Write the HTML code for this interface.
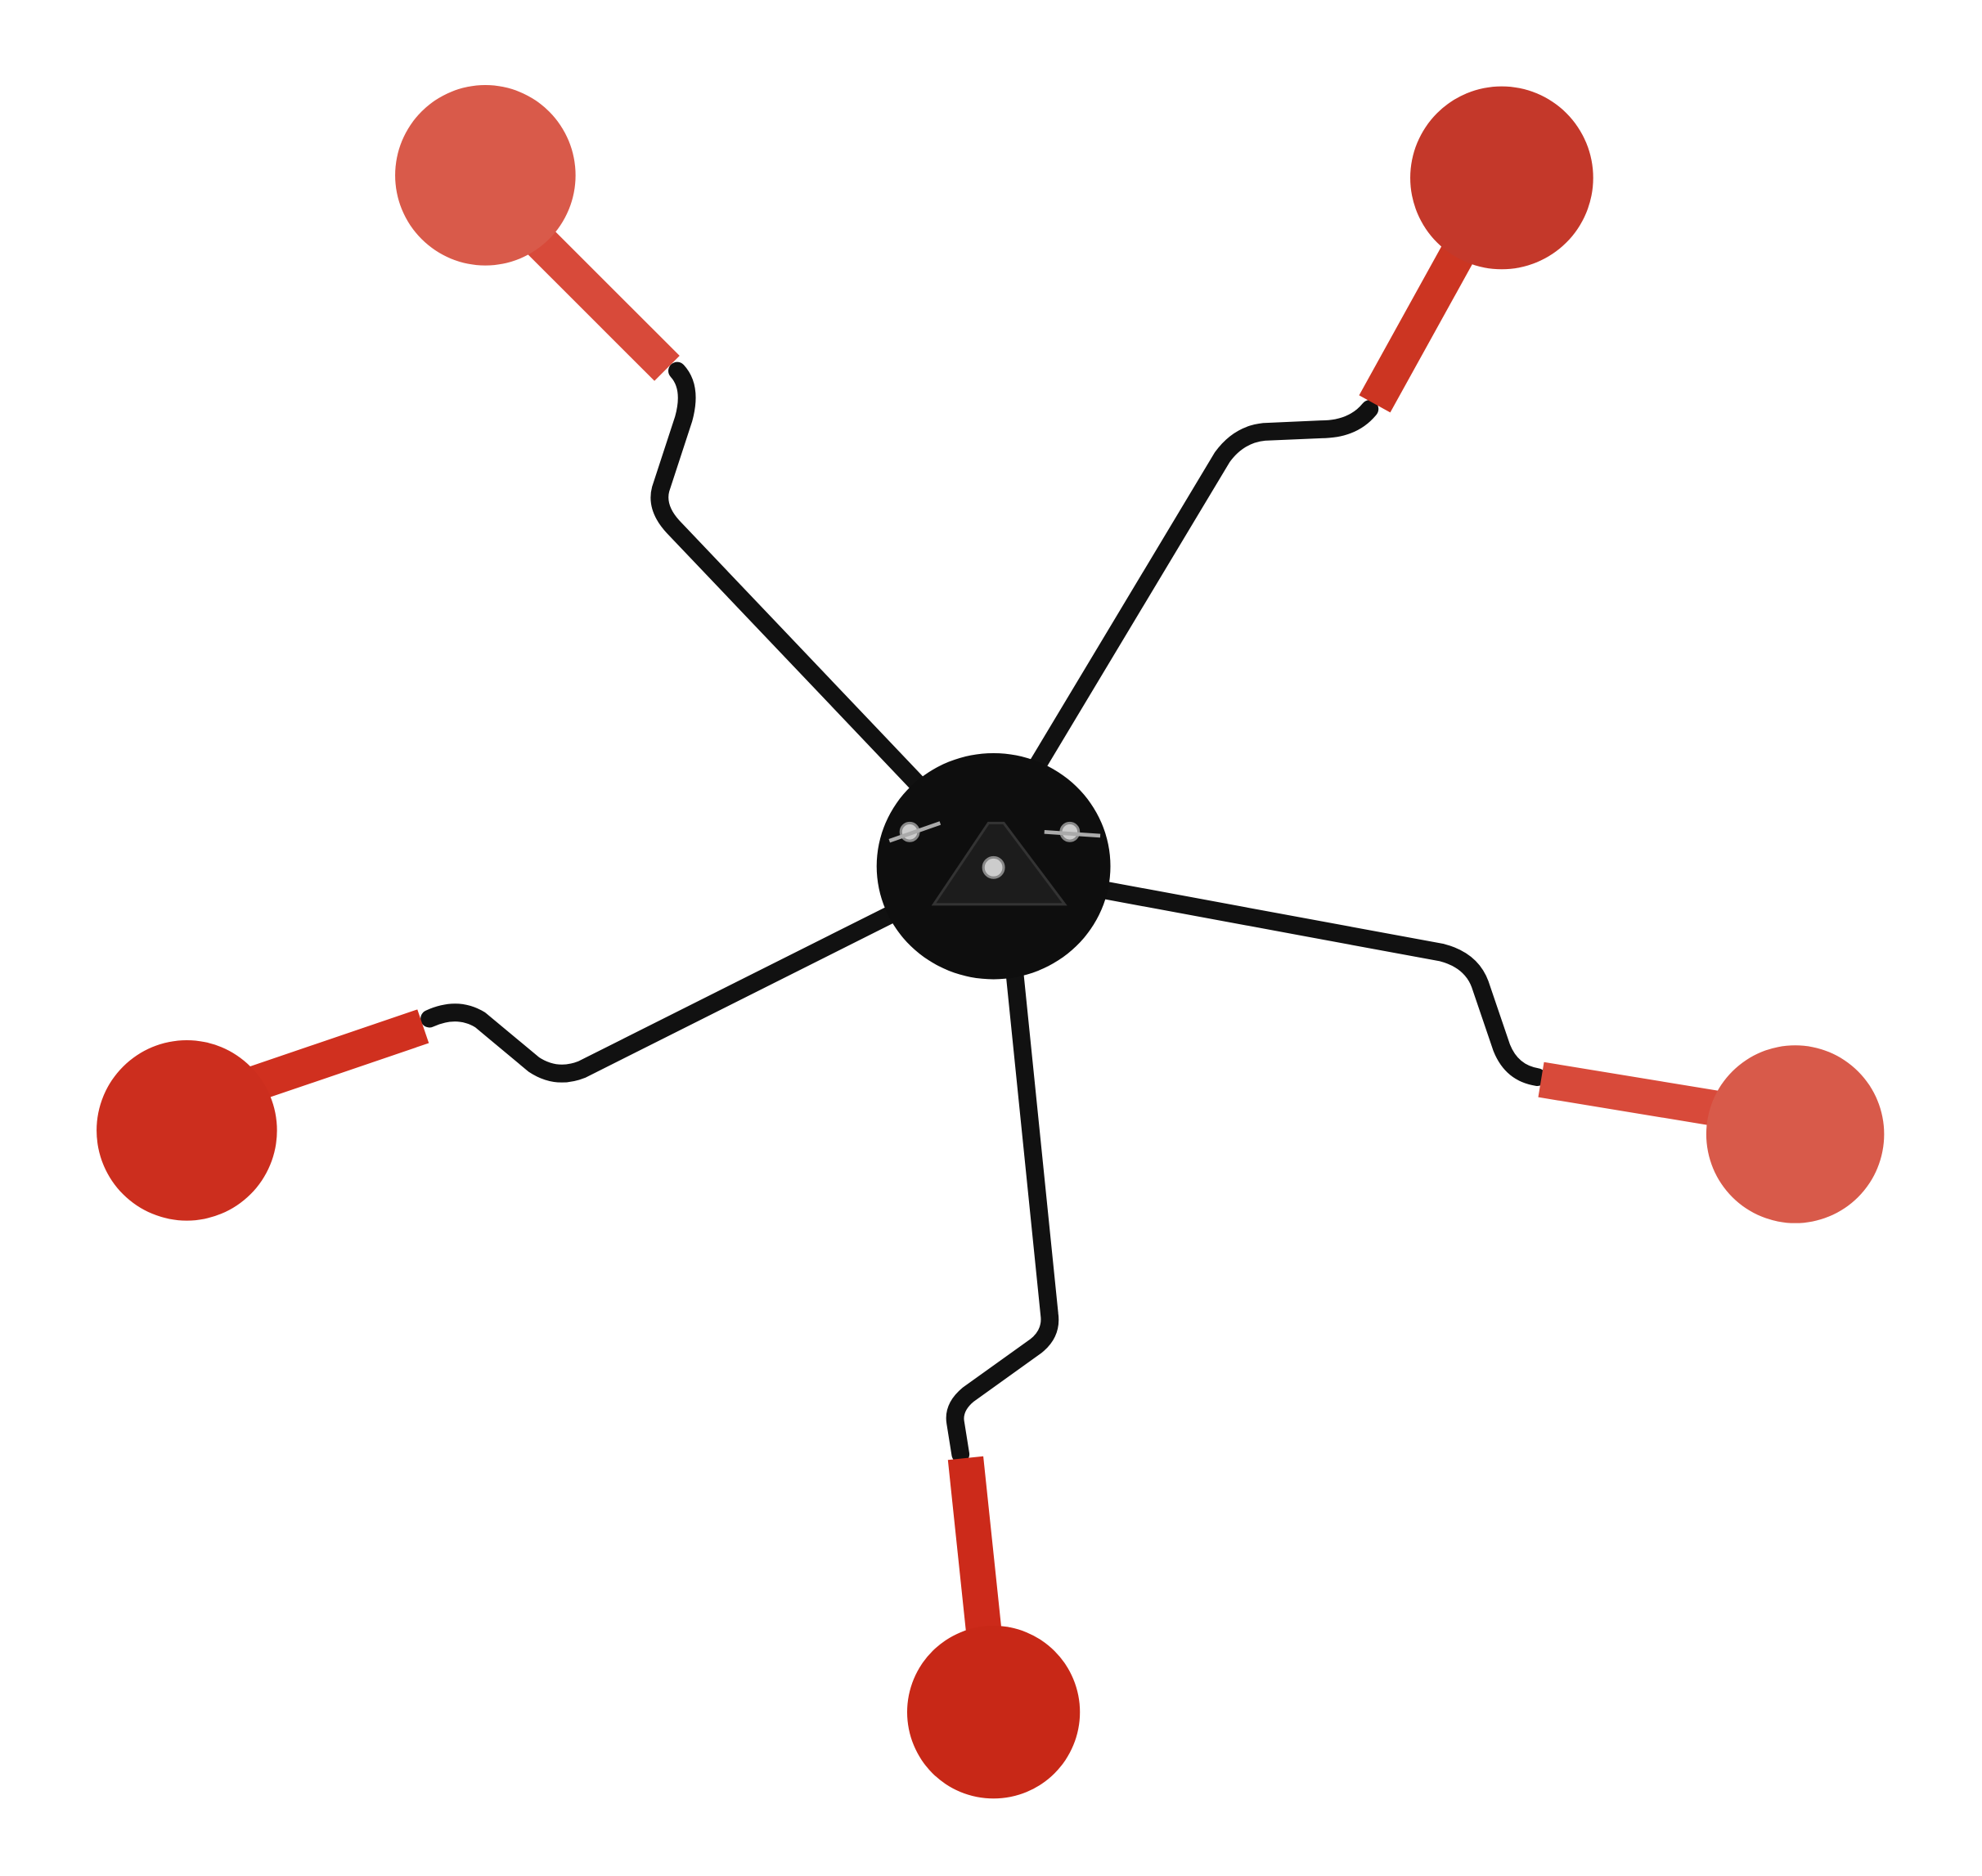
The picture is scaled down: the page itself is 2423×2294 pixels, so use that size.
<!DOCTYPE html>
<html><head><meta charset="utf-8"><style>
html,body{margin:0;padding:0;background:#fff;}
svg{display:block;}
</style></head><body>
<svg width="2423" height="2294" viewBox="0 0 1560 1477" xmlns="http://www.w3.org/2000/svg">
<rect width="1560" height="1477" fill="#fff"/>
<g fill="none" stroke="#111" stroke-width="14" stroke-linecap="round" stroke-linejoin="round">
<path d="M533 292 Q545 305 538 330 L520 385 Q516 400 530 415 L725 620"/>
<path d="M1078 322 Q1065 338 1040 338 L995 340 Q975 342 962 360 L815 605"/>
<path d="M338 802 Q360 792 378 803 L420 838 Q438 850 458 842 L705 718"/>
<path d="M1210 848 Q1190 845 1182 825 L1165 775 Q1158 756 1135 750 L865 700"/>
<path d="M756 1145 L752 1120 Q750 1108 762 1098 L815 1060 Q828 1050 826 1035 L798 760"/>
</g>
<g>
<ellipse cx="782" cy="682" rx="92" ry="89" fill="#0e0e0e"/>
<path d="M735 712 L778 648 L790 648 L838 712 Z" fill="#1c1c1c" stroke="#333" stroke-width="2"/>
<circle cx="782" cy="683" r="8" fill="#ccc" stroke="#888" stroke-width="2"/>
<circle cx="716" cy="655" r="7" fill="#ccc" stroke="#888" stroke-width="2"/>
<circle cx="842" cy="655" r="7" fill="#ccc" stroke="#888" stroke-width="2"/>
<line x1="700" y1="662" x2="740" y2="648" stroke="#aaa" stroke-width="3"/>
<line x1="822" y1="655" x2="866" y2="658" stroke="#aaa" stroke-width="3"/>
</g>
<g stroke-linecap="butt">
<g>
<line x1="425" y1="190" x2="525" y2="290" stroke="#d84a3a" stroke-width="28"/>
<circle cx="382" cy="138" r="71" fill="#d95a4a"/>
</g>
<g>
<line x1="1150" y1="195" x2="1082" y2="318" stroke="#cc3522" stroke-width="28"/>
<circle cx="1182" cy="140" r="72" fill="#c4382a"/>
</g>
<g>
<line x1="195" y1="855" x2="333" y2="808" stroke="#d0301f" stroke-width="28"/>
<circle cx="147" cy="890" r="71" fill="#cc2e1e"/>
</g>
<g>
<line x1="1213" y1="850" x2="1365" y2="875" stroke="#d84a3a" stroke-width="28"/>
<circle cx="1413" cy="893" r="70" fill="#d85a4a"/>
</g>
<g>
<line x1="760" y1="1148" x2="776" y2="1300" stroke="#cc2a1a" stroke-width="28"/>
<circle cx="782" cy="1348" r="68" fill="#c82817"/>
</g>
</g>
</svg>
</body></html>
